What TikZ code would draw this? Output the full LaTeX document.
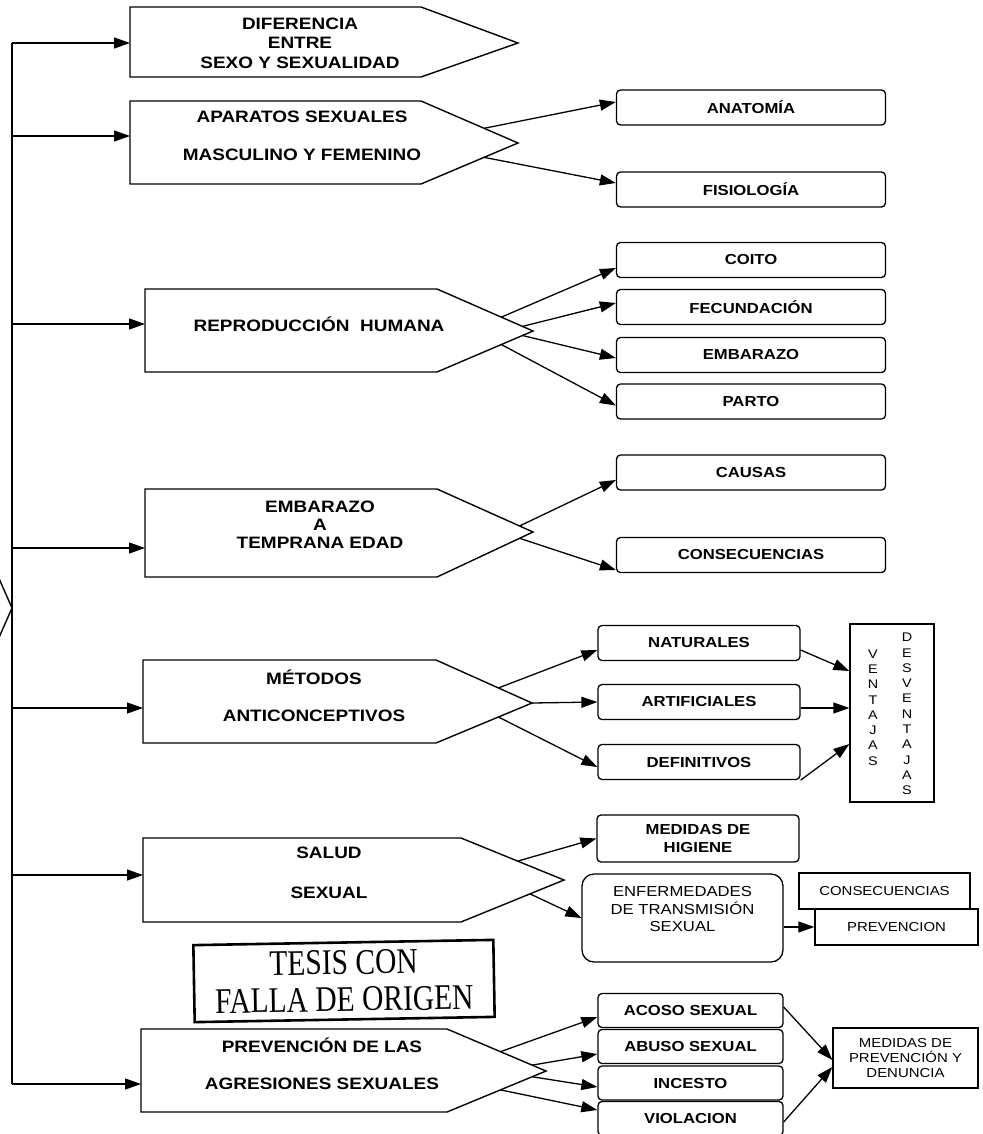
\documentclass[tikz,border=0pt]{standalone}
\usepackage{fontspec}
\setmainfont{Liberation Sans}[FakeStretch=1.15]
\newfontfamily\sellofont{Liberation Serif}[FakeStretch=0.82]
\usepackage{tikz}
\usetikzlibrary{arrows.meta}

\tikzset{
  tema/.style={line width=1.4pt},
  titulo/.style={align=center, font=\fontsize{16.5}{19.5}\selectfont\bfseries},
  subtema/.style={draw, line width=1.3pt, rounded corners=4pt, minimum width=269pt,
    minimum height=35pt, inner sep=0pt, align=center, font=\fontsize{14.5}{17.5}\selectfont\bfseries},
  corto/.style={subtema, minimum width=202pt},
  agresion/.style={subtema, minimum width=185pt, minimum height=34pt},
  caja/.style={draw, line width=1.3pt, inner sep=0pt, align=center, font=\fontsize{13}{15}\selectfont},
  letras/.style={align=center, inner sep=0pt, font=\fontsize{12.5}{15.3}\selectfont},
  sello/.style={draw, line width=2.6pt, minimum width=300pt, minimum height=77pt, inner sep=0pt,
    align=center, font=\sellofont\fontsize{36}{37}\selectfont},
  flecha/.style={-{Triangle[length=16pt,width=11pt]}, line width=1.3pt}
}

\begin{document}
\begin{tikzpicture}[x=1pt,y=-1pt]
	\useasboundingbox (0,0) rectangle (982,1134);
	\clip (0,0) rectangle (982,1134);
	%%Eje
	\coordinate (eje-top) at (12,43);
	\coordinate (eje-bot) at (12,1084);
	\draw[line width=1.3pt] (eje-top) -- (eje-bot);
	\draw[tema] (-10,558) -- (12,608) -- (-10,658);
	
	%%Temas
	\draw[tema] (130,7) -- (421,7) -- (518,43) -- (421,77) -- (130,77) -- cycle;
	\coordinate (dif-w) at (130,43);
	\node[titulo] (dif) at (300,43) {DIFERENCIA\\ENTRE\\SEXO Y SEXUALIDAD};
	
	\draw[tema] (130,101) -- (421,101) -- coordinate[pos=0.65] (apa-a) (518,143)
		-- coordinate[pos=0.35] (apa-b) (421,184) -- (130,184) -- cycle;
	\coordinate (apa-w) at (130,136);
	\node[titulo] (apa) at (302,136) {APARATOS SEXUALES\\[18pt]MASCULINO Y FEMENINO};
	
	\draw[tema] (145,289) -- (437,289) -- coordinate[pos=0.67] (rep-a) coordinate[pos=0.89] (rep-b) (533,331)
		-- coordinate[pos=0.11] (rep-c) coordinate[pos=0.33] (rep-d) (437,372) -- (145,372) -- cycle;
	\coordinate (rep-w) at (145,324);
	\node[titulo] (rep) at (319,324) {REPRODUCCIÓN\ \ HUMANA};
	
	\draw[tema] (145,489) -- (437,489) -- coordinate[pos=0.86] (emb-a) (533,532)
		-- coordinate[pos=0.14] (emb-b) (437,577) -- (145,577) -- cycle;
	\coordinate (emb-w) at (145,548);
	\node[titulo, font=\fontsize{16.5}{18}\selectfont\bfseries] (emb) at (320,525) {EMBARAZO\\A\\TEMPRANA EDAD};
	
	\draw[tema] (143,660) -- (436,660) -- coordinate[pos=0.65] (met-a) (532,703) coordinate (met-tip)
		-- coordinate[pos=0.35] (met-b) (436,743) -- (143,743) -- cycle;
	\coordinate (met-w) at (143,708);
	\node[titulo] (met) at (314,696) {MÉTODOS\\[18pt]ANTICONCEPTIVOS};
	
	\draw[tema] (143,838) -- (461,838) -- coordinate[pos=0.55] (sal-a) (564,880)
		-- coordinate[pos=0.33] (sal-b) (461,922) -- (143,922) -- cycle;
	\coordinate (sal-w) at (143,875);
	\node[titulo] (sal) at (329,873) {SALUD\\[20pt]SEXUAL};
	
	\draw[tema] (141,1029) -- (447,1029) -- coordinate[pos=0.54] (pre-a) coordinate[pos=0.86] (pre-b) (546,1071)
		-- coordinate[pos=0.14] (pre-c) coordinate[pos=0.46] (pre-d) (447,1112) -- (141,1112) -- cycle;
	\coordinate (pre-w) at (141,1084);
	\node[titulo] (pre) at (322,1064) {PREVENCIÓN DE LAS\\[18pt]AGRESIONES SEXUALES};
	
	%%Sello
	\node[sello, rotate=1] (sello) at (344,981) {TESIS CON\\FALLA DE ORIGEN};
	
	%%Subtemas
	\node[subtema] (anat) at (751,107.5) {ANATOMÍA};
	\node[subtema] (fis) at (751,189.5) {FISIOLOGÍA};
	\node[subtema] (coito) at (751,260) {COITO};
	\node[subtema] (fec) at (751,307) {FECUNDACIÓN};
	\node[subtema] (embz) at (751,355) {EMBARAZO};
	\node[subtema] (parto) at (751,401.5) {PARTO};
	\node[subtema] (causas) at (751,472.5) {CAUSAS};
	\node[subtema] (conse) at (751,555) {CONSECUENCIAS};
	\node[corto] (nat) at (699,643) {NATURALES};
	\node[corto] (art) at (699,702) {ARTIFICIALES};
	\node[corto] (def) at (699,762) {DEFINITIVOS};
	\node[caja, minimum width=84pt, minimum height=178pt] (vent) at (892,713) {};
	\node[letras] (vt) at (873,707.5) {V\\E\\N\\T\\A\\J\\A\\S};
	\node[letras] (dvt) at (907,714) {D\\E\\S\\V\\E\\N\\T\\A\\J\\A\\S};
	\node[corto, minimum height=47pt] (hig) at (698,838.5) {MEDIDAS DE\\HIGIENE};
	\node[subtema, rounded corners=12pt, minimum width=201pt, minimum height=88pt,
		font=\fontsize{14.5}{17.5}\selectfont] (ets) at (682.5,918) {ENFERMEDADES\\DE TRANSMISIÓN\\SEXUAL\\\mbox{}};
	\node[caja, minimum width=171pt, minimum height=36pt] (cons2) at (884.5,891) {CONSECUENCIAS};
	\node[caja, minimum width=163pt, minimum height=36pt] (prev2) at (896.5,927) {PREVENCION};
	\node[agresion] (acoso) at (690.5,1010.5) {ACOSO SEXUAL};
	\node[agresion] (abuso) at (690.5,1046.5) {ABUSO SEXUAL};
	\node[agresion] (inc) at (690.5,1083) {INCESTO};
	\node[agresion] (viol) at (690.5,1118.5) {VIOLACION};
	\node[caja, minimum width=145pt, minimum height=60pt] (den) at (905.5,1058) {MEDIDAS DE\\PREVENCIÓN Y\\DENUNCIA};
	
	%%Flechas
	\draw[flecha] (eje-top) -- (dif-w);
	\draw[flecha] (eje-top |- apa-w) -- (apa-w);
	\draw[flecha] (eje-top |- rep-w) -- (rep-w);
	\draw[flecha] (eje-top |- emb-w) -- (emb-w);
	\draw[flecha] (eje-top |- met-w) -- (met-w);
	\draw[flecha] (eje-top |- sal-w) -- (sal-w);
	\draw[flecha] (eje-bot) -- (pre-w);
	
	\draw[flecha] (apa-a) -- ([yshift=5.5pt]anat.west);
	\draw[flecha] (apa-b) -- ([yshift=6.5pt]fis.west);
	\draw[flecha] (rep-a) -- ([yshift=-8pt]coito.west);
	\draw[flecha] (rep-b) -- ([yshift=4pt]fec.west);
	\draw[flecha] (rep-c) -- ([yshift=-3pt]embz.west);
	\draw[flecha] (rep-d) -- ([yshift=-4pt]parto.west);
	\draw[flecha] (emb-a) -- ([yshift=-7.5pt]causas.west);
	\draw[flecha] (emb-b) -- ([yshift=-15pt]conse.west);
	\draw[flecha] (met-a) -- ([yshift=-7pt]nat.west);
	\draw[flecha] (met-tip) -- (art.west);
	\draw[flecha] (met-b) -- ([yshift=-5pt]def.west);
	\draw[flecha] ([yshift=-7pt]nat.east) -- ([yshift=42pt]vent.west);
	\draw[flecha] ([yshift=-6pt]art.east) -- ([yshift=5pt]vent.west);
	\draw[flecha] (def.south east) -- ([yshift=-31pt]vent.west);
	\draw[flecha] (sal-a) -- (hig.west);
	\draw[flecha] (sal-b) -- (ets.west);
	\draw[flecha] (prev2.west -| ets.east) -- (prev2.west);
	\draw[flecha] (pre-a) -- ([yshift=-6.5pt]acoso.west);
	\draw[flecha] (pre-b) -- ([yshift=-7.5pt]abuso.west);
	\draw[flecha] (pre-c) -- ([yshift=-4pt]inc.west);
	\draw[flecha] (pre-d) -- ([yshift=8.5pt]viol.west);
	\draw[flecha] ([yshift=3.5pt]acoso.east) -- ([yshift=-2pt]den.west);
	\draw[flecha] ([yshift=-3.5pt]viol.east) -- ([yshift=-9pt]den.west);
\end{tikzpicture}
\end{document}
